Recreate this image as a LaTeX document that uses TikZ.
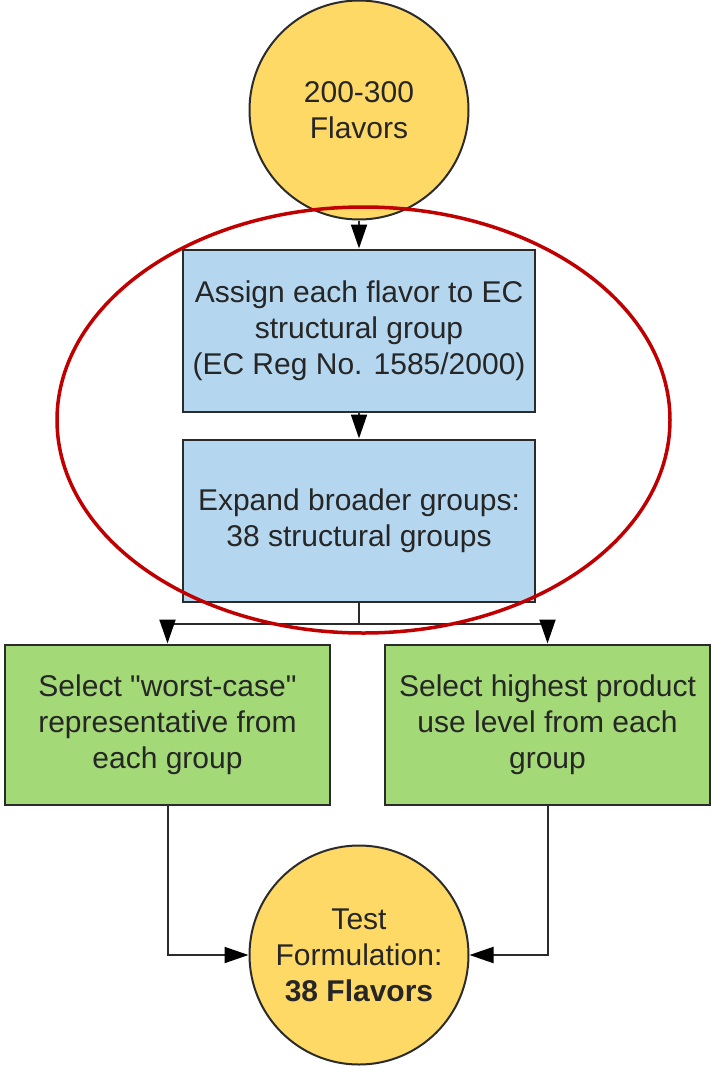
\documentclass[tikz,border=0pt]{standalone}
\usepackage{fontspec}
\setmainfont{Liberation Sans}
\usetikzlibrary{positioning, arrows.meta}

\definecolor{flavyellow}{HTML}{FFD966}
\definecolor{grpblue}{HTML}{B4D6EF}
\definecolor{selgreen}{HTML}{A3D977}
\definecolor{linegrey}{HTML}{2B2B2B}
\definecolor{markred}{HTML}{C00000}

\begin{document}
\begin{tikzpicture}[color=linegrey, text=black!85, line width=1pt,
		font=\fontsize{15}{18}\selectfont,
		blob/.style={draw, shape=circle, fill=flavyellow, minimum size=109.5pt, inner sep=0pt, align=center},
		stage/.style={draw, shape=rectangle, fill=grpblue, minimum width=176pt, minimum height=81pt, align=center},
		pick/.style={draw, shape=rectangle, fill=selgreen, minimum width=162.5pt, minimum height=80pt, align=center},
		flow/.style={-{Triangle[length=12pt, width=8pt, color=black]}}]
		\useasboundingbox (0,0) rectangle (356pt,-533pt);
		\node (flav) [blob] at (179.5pt,-55pt) {200-300\\Flavors};
		\node (asgn) [stage, below=14pt of flav] {Assign each flavor to EC\\structural group\\(EC Reg No. 1585/2000)};
		\node (expd) [stage, below=13pt of asgn] {Expand broader groups:\\38 structural groups};
		\node (wrst) [pick, below=20.5pt of expd, xshift=-95.75pt] {Select \textquotedbl worst-case\textquotedbl\\representative from\\each group};
		\node (high) [pick, below=20.5pt of expd, xshift=94.25pt] {Select highest product\\use level from each\\group};
		\node (test) [blob, below=121pt of expd] {Test\\Formulation:\\\textbf{38 Flavors}};
		\draw [flow] (flav) -- (asgn);
		\draw [flow] (asgn) -- (expd);
		\draw [flow] (expd.south) -- ++(0,-10.5pt) -| (wrst.north);
		\draw [flow] (expd.south) -- ++(0,-10.5pt) -| (high.north);
		\draw [flow] (wrst.south) |- (test.west);
		\draw [flow] (high.south) |- (test.east);
		\draw [markred, line width=1.75pt] (181.75pt,-210pt) ellipse [x radius=153.25pt, y radius=106.5pt];
		\end{tikzpicture}
\end{document}
